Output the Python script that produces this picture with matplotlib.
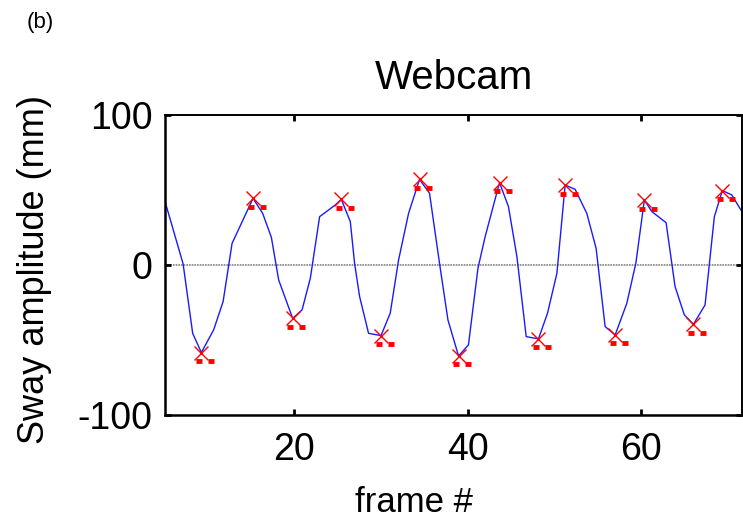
import matplotlib.pyplot as plt
import matplotlib.transforms as mtransforms
import numpy as np

plt.rcParams['font.family'] = ['Liberation Sans', 'DejaVu Sans']
plt.rcParams['axes.unicode_minus'] = False

# sway trace (frame #, mm)
frames = [5.27, 7.29, 8.39, 9.39, 10.80, 11.89, 12.92, 15.33, 16.44, 17.44,
          18.28, 19.89, 20.97, 21.92, 22.99, 24.79, 25.48, 26.52, 27.01, 27.59,
          28.62, 30.05, 31.11, 32.07, 33.22, 34.48, 35.63, 36.78, 37.75, 38.97,
          40.11, 41.20, 42.03, 43.68, 44.71, 45.68, 46.75, 48.16, 49.20, 50.28,
          51.23, 52.38, 53.72, 54.79, 55.83, 56.98, 58.32, 59.36, 60.34, 61.20,
          62.84, 63.87, 64.94, 65.98, 67.32, 68.39, 69.31, 70.39, 71.69]
sway = [41.1, 0.7, -45.6, -58.4, -43.3, -24.4, 14.4, 44.4, 34.4, 18.4,
        -10.0, -35.6, -30.0, -8.9, 32.2, 40.0, 43.8, 28.9, 1.1, -21.1,
        -45.6, -47.1, -32.2, 3.3, 34.4, 57.1, 47.8, 1.1, -36.7, -60.7,
        -53.3, -2.2, 18.9, 54.9, 38.9, 5.6, -47.8, -49.3, -32.2, -5.6,
        53.3, 50.4, 34.4, 11.1, -41.1, -46.7, -25.6, 1.1, 43.3, 35.6,
        28.2, -14.4, -33.3, -39.6, -26.7, 32.2, 49.6, 46.7, 34.4]

# detected peaks / troughs
peak_frames = [9.39, 15.33, 19.89, 25.48, 30.05, 34.48, 38.97, 43.68,
               48.16, 51.23, 56.98, 60.34, 65.98, 69.31]
peak_sway = [-58.4, 44.4, -35.6, 43.8, -47.1, 57.1, -60.7, 54.9,
             -49.3, 53.3, -46.7, 43.3, -39.6, 49.6]

fig = plt.figure(figsize=(7.43, 5.18), dpi=100)
ax = fig.add_axes([0.222, 0.199, 0.777, 0.579])

ax.axhline(0, color='#808080', lw=1.2, ls=(0, (1, 0.6)), zorder=1)
ax.plot(frames, sway, color='#1a1aff', lw=1.0, zorder=2)
ax.plot(peak_frames, peak_sway, ls='none', marker='x', ms=10.5, mew=1.0,
        color='red', zorder=3)

# the little red dashes under each marker
for dx in (-2.5, 9.5):
    tr = mtransforms.offset_copy(ax.transData, fig=fig, x=dx, y=-8.5, units='dots')
    ax.plot(peak_frames, peak_sway, ls='none', marker='_', ms=5, mew=3.5,
            color='red', transform=tr, zorder=3, clip_on=False)

ax.set_xlim(5.2, 71.6)
ax.set_ylim(-100, 100)
ax.set_xticks([20, 40, 60])
ax.set_yticks([-100, 0, 100])

ax.tick_params(direction='in', length=4, width=2, top=True, right=True,
               labelsize=27, pad=9)
ax.tick_params(axis='x', pad=12)
for s in ['left', 'bottom']:
    ax.spines[s].set_linewidth(1.8)
ax.spines['top'].set_linewidth(1.4)
ax.spines['right'].set_linewidth(1.4)

ax.set_title('Webcam', fontsize=29, pad=19)
ax.set_xlabel('frame #', fontsize=25)
ax.xaxis.set_label_coords(0.4315, -0.238)
ax.set_ylabel('Sway amplitude (mm)', fontsize=26)
ax.yaxis.set_label_coords(-0.195, 0.485)

fig.text(0.036, 0.956, '(b)', fontsize=16, va='center')

fig.savefig('out.png', dpi=100)
